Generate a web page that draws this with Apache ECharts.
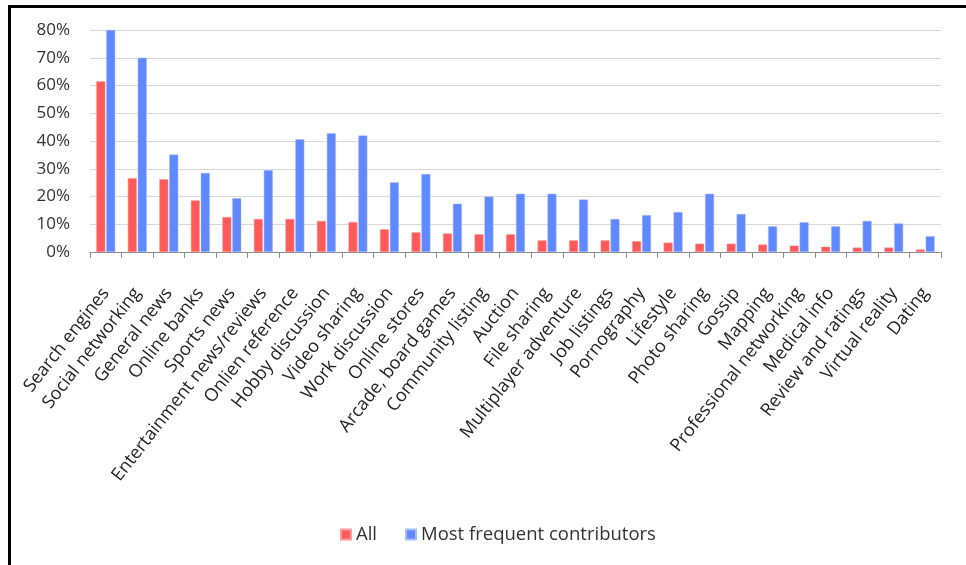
<!DOCTYPE html>
<html>
<head>
<meta charset="utf-8">
<script src="https://cdn.jsdelivr.net/npm/echarts@6/dist/echarts.min.js"></script>
<style>
  html, body { margin: 0; padding: 0; background: #fff; }
  #frame { position: absolute; left: 0; top: 0; width: 966px; height: 565px; overflow: hidden; }
  #edgeTop { position: absolute; left: 8px; top: 5px; width: 958px; height: 3px; background: #000; }
  #edgeLeft { position: absolute; left: 8px; top: 5px; width: 3px; height: 560px; background: #000; }
  #chart { position: absolute; left: 0; top: 0; width: 966px; height: 565px; }
</style>
</head>
<body>
<div id="frame">
  <div id="chart"></div>
  <div id="edgeTop"></div>
  <div id="edgeLeft"></div>
</div>
<script>
// Site categories
const categories = [
  'Search engines', 'Social networking', 'General news', 'Online banks', 'Sports news',
  'Entertainment news/reviews', 'Onlien reference', 'Hobby discussion', 'Video sharing',
  'Work discussion', 'Online stores', 'Arcade, board games', 'Community listing', 'Auction',
  'File sharing', 'Multiplayer adventure', 'Job listings', 'Pornography', 'Lifestyle',
  'Photo sharing', 'Gossip', 'Mapping', 'Professional networking', 'Medical info',
  'Review and ratings', 'Virtual reality', 'Dating'
];

// Share of users (%)
const allUsers = [
  61.5, 26.6, 26.2, 18.6, 12.6, 11.9, 11.9, 11.2, 10.8,
  8.2, 7.1, 6.7, 6.4, 6.4, 4.2, 4.2, 4.2, 3.9, 3.4,
  3.0, 3.0, 2.7, 2.3, 1.9, 1.6, 1.6, 0.9
];
const frequentContributors = [
  80, 70, 35.1, 28.5, 19.4, 29.5, 40.6, 42.8, 42.0,
  25.1, 28.1, 17.4, 20.0, 21.0, 21.0, 18.9, 11.9, 13.3, 14.4,
  21.0, 13.7, 9.3, 10.7, 9.3, 11.2, 10.3, 5.7
];

const seriesNames = ['All', 'Most frequent contributors'];
const yTicks = { min: 0, max: 80, interval: 10 };

const fontFamily = '"Open Sans", "Noto Sans", sans-serif';
const chart = echarts.init(document.getElementById('chart'), null, { renderer: 'canvas' });

chart.setOption({
  animation: false,
  backgroundColor: '#ffffff',
  textStyle: { fontFamily: fontFamily },
  grid: { left: 90, right: 25, top: 30, bottom: 313, containLabel: false },
  legend: {
    data: seriesNames,
    left: 335,
    top: 520,
    itemWidth: 10,
    itemHeight: 10,
    itemGap: 28,
    icon: 'rect',
    textStyle: { fontSize: 18.5, color: '#333', fontFamily: fontFamily }
  },
  xAxis: {
    type: 'category',
    data: categories,
    boundaryGap: true,
    axisLine: { lineStyle: { color: '#8c8c8c', width: 1 } },
    axisTick: { show: true, length: 6, lineStyle: { color: '#8c8c8c' } },
    axisLabel: {
      interval: 0,
      rotate: 52,
      fontSize: 18,
      color: '#222',
      margin: 38,
      fontFamily: fontFamily
    },
    splitLine: { show: false }
  },
  yAxis: {
    type: 'value',
    min: yTicks.min,
    max: yTicks.max,
    interval: yTicks.interval,
    axisLine: { show: false },
    axisTick: { show: false },
    axisLabel: {
      formatter: '{value}%',
      fontSize: 17,
      color: '#333',
      margin: 20,
      fontFamily: fontFamily
    },
    splitLine: { lineStyle: { color: '#d9d9d9', width: 1 } }
  },
  series: [
    {
      name: seriesNames[0],
      type: 'bar',
      data: allUsers,
      barWidth: 9,
      barGap: '10%',
      itemStyle: { color: '#ff5a5a', borderColor: '#ff9a9a', borderWidth: 0.5 }
    },
    {
      name: seriesNames[1],
      type: 'bar',
      data: frequentContributors,
      barWidth: 9,
      itemStyle: { color: '#6088ff', borderColor: '#a6bcff', borderWidth: 0.5 }
    }
  ]
});
</script>
</body>
</html>
